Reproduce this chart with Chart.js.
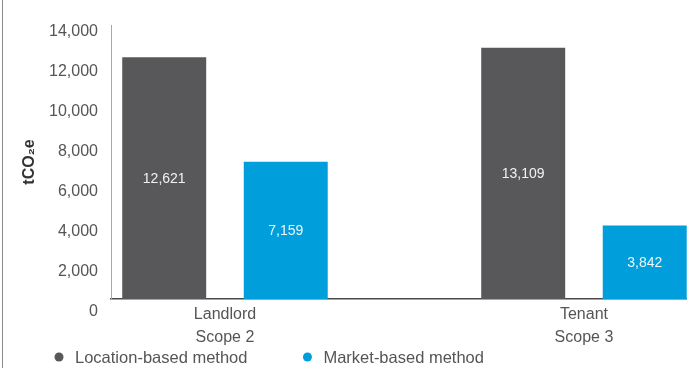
<!DOCTYPE html>
<html>
<head>
<meta charset="utf-8">
<script src="https://cdn.jsdelivr.net/npm/chart.js@4.4.1/dist/chart.umd.min.js"></script>
<style>
  html, body { margin: 0; padding: 0; background: #fff; }
  #wrap { position: relative; width: 687px; height: 368px; }
  #frame { position: absolute; left: 2px; top: 0; width: 1px; height: 368px; background: #8a8a8a; }
</style>
</head>
<body>
<div id="wrap">
  <canvas id="emissionsChart" width="687" height="368"></canvas>
  <div id="frame"></div>
</div>
<script>
const categories = [['Landlord', 'Scope 2'], ['Tenant', 'Scope 3']];
const locationBased = [12621, 13109];
const marketBased = [7159, 3842];
const yTicks = [0, 2000, 4000, 6000, 8000, 10000, 12000, 14000];
const seriesNames = ['Location-based method', 'Market-based method'];
const seriesColors = ['#58585b', '#009edb'];

const FONT = '"Liberation Sans", Arial, sans-serif';
Chart.defaults.font.family = FONT;
Chart.defaults.color = '#555';

/* ===== value labels in the middle of each bar ===== */
const barLabels = {
    id: 'barLabels',
    afterDatasetsDraw(chart) {
        const ctx = chart.ctx;
        ctx.save();
        ctx.font = '14px ' + FONT;
        ctx.fillStyle = 'rgba(255,255,255,0.92)';
        ctx.textAlign = 'center';
        ctx.textBaseline = 'middle';
        chart.data.datasets.forEach((ds, i) => {
            chart.getDatasetMeta(i).data.forEach((bar, j) => {
                const v = ds.data[j].y;
                ctx.fillText(v.toLocaleString('en-US'), bar.x, (bar.y + bar.base) / 2 + 1);
            });
        });
        ctx.restore();
    }
};

/* ===== legend under the axis ===== */
const bottomLegend = {
    id: 'bottomLegend',
    afterDraw(chart) {
        const ctx = chart.ctx;
        ctx.save();
        ctx.font = '16.5px ' + FONT;
        ctx.textBaseline = 'middle';
        ctx.textAlign = 'left';
        let x = 59;
        const y = 357;
        chart.data.datasets.forEach(ds => {
            ctx.fillStyle = ds.backgroundColor;
            ctx.beginPath();
            ctx.arc(x, y, 4.5, 0, Math.PI * 2);
            ctx.fill();
            ctx.fillStyle = '#555';
            ctx.fillText(ds.label, x + 16, y + 1);
            x += 16 + ctx.measureText(ds.label).width + 60;
        });
        ctx.restore();
    }
};

const ctx = document.getElementById('emissionsChart');

new Chart(ctx, {
    type: 'bar',
    data: {
        datasets: [
            {
                label: seriesNames[0],
                data: locationBased.map((v, i) => ({ x: i, y: v })),
                backgroundColor: seriesColors[0],
                yAxisID: 'yb'
            },
            {
                label: seriesNames[1],
                data: marketBased.map((v, i) => ({ x: i, y: v })),
                backgroundColor: seriesColors[1],
                yAxisID: 'yb'
            }
        ]
    },
    options: {
        responsive: false,
        animation: false,
        devicePixelRatio: 1,
        categoryPercentage: 0.677,
        barPercentage: 0.691,
        layout: { padding: { top: 25, left: 0, right: 0, bottom: 0 } },
        plugins: {
            legend: { display: false },
            tooltip: { enabled: false }
        },
        scales: {
            x: {
                type: 'linear',
                offset: false,
                bounds: 'data',
                min: -0.3175,
                max: 1.287,
                grid: { display: false, drawTicks: false, offset: false },
                border: { display: true, color: '#4a4a4a', width: 1.5 },
                afterBuildTicks: scale => { scale.ticks = categories.map((c, i) => ({ value: i })); },
                afterFit: scale => { scale.height = 69; },
                ticks: {
                    padding: 4,
                    font: { size: 16, lineHeight: 1.45 },
                    color: '#555',
                    callback: v => categories[v]
                }
            },
            y: {
                position: 'left',
                min: 650,
                max: 14350,
                grid: { display: false, drawTicks: false },
                border: { display: true, color: '#a8a8a8', width: 1 },
                afterBuildTicks: scale => { scale.ticks = yTicks.map(v => ({ value: v })); },
                afterFit: scale => { scale.width = 111; },
                ticks: {
                    padding: 13,
                    font: { size: 16 },
                    color: '#555',
                    callback: v => v.toLocaleString('en-US')
                },
                title: {
                    display: true,
                    text: 'tCO₂e',
                    color: '#333',
                    font: { size: 16, weight: 'bold' },
                    padding: { top: 20, bottom: 0 }
                }
            },
            yb: {
                display: false,
                position: 'left',
                min: 0,
                max: 14300
            }
        }
    },
    plugins: [barLabels, bottomLegend]
});
</script>
</body>
</html>
